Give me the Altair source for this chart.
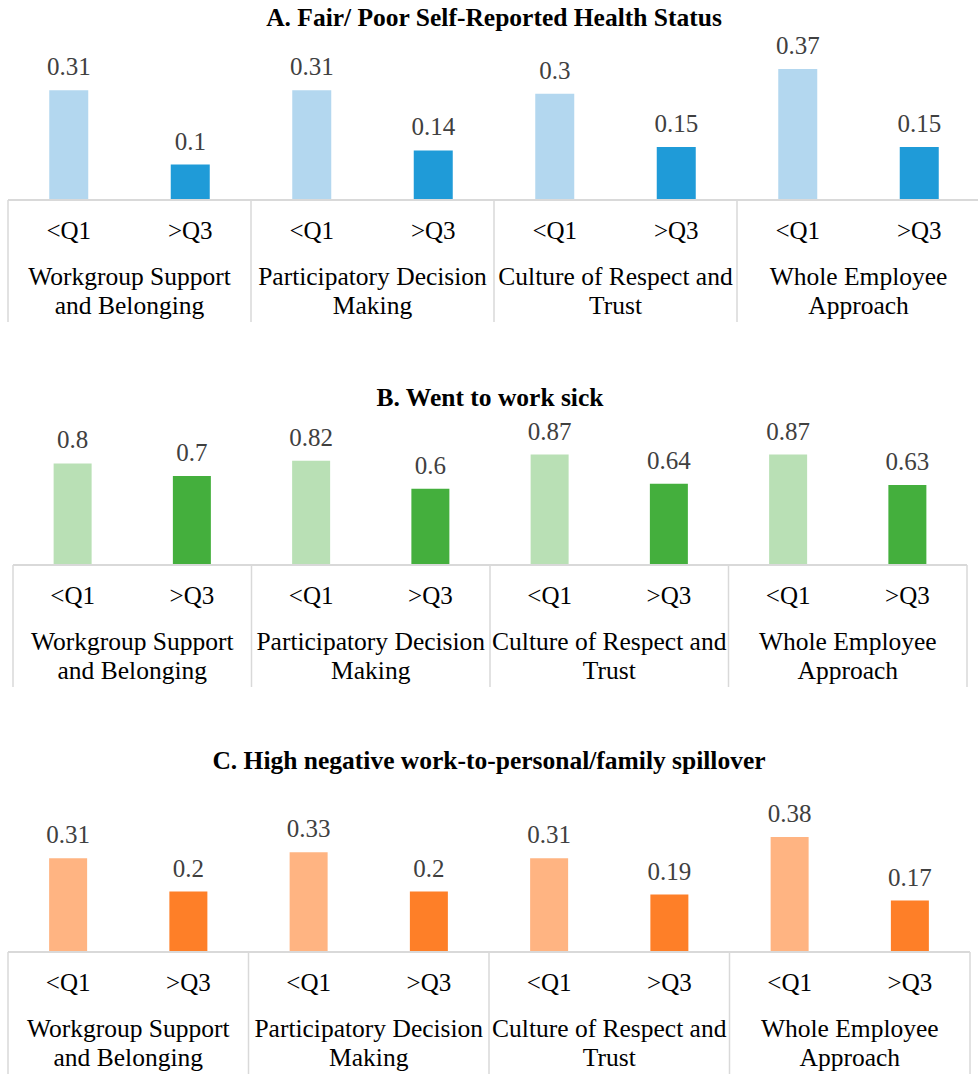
import altair as alt
import pandas as pd

# Categories
groups = [
    "Workgroup Support and Belonging",
    "Participatory Decision Making",
    "Culture of Respect and Trust",
    "Whole Employee Approach",
]
group_line1 = ["Workgroup Support", "Participatory Decision", "Culture of Respect and", "Whole Employee"]
group_line2 = ["and Belonging", "Making", "Trust", "Approach"]
quartiles = ["<Q1", ">Q3"]

# Series values, in order: group 1 <Q1, group 1 >Q3, group 2 <Q1, ...
health_values = [0.31, 0.10, 0.31, 0.14, 0.30, 0.15, 0.37, 0.15]
sick_values = [0.80, 0.70, 0.82, 0.60, 0.87, 0.64, 0.87, 0.63]
spillover_values = [0.31, 0.20, 0.33, 0.20, 0.31, 0.19, 0.38, 0.17]

titles = [
    "A. Fair/ Poor Self-Reported Health Status",
    "B. Went to work sick",
    "C. High negative work-to-personal/family spillover",
]

SERIF = "Liberation Serif"
GRID = "#D9D9D9"


def make_frame(values):
    rows = []
    for gi, g in enumerate(groups):
        for qi, q in enumerate(quartiles):
            rows.append({
                "group": g,
                "line1": group_line1[gi],
                "line2": group_line2[gi],
                "quartile": q,
                "slot": f"{g} {q}",
                "value": values[2 * gi + qi],
            })
    return pd.DataFrame(rows)


def panel(values, title, colors, x_range, base_px, top_px, y_max, bar_w, title_xy):
    df = make_frame(values)
    slots = list(df["slot"])
    x_scale = alt.Scale(domain=slots, range=x_range, paddingInner=0, paddingOuter=0)
    y_scale = alt.Scale(domain=[0, y_max], range=[base_px, top_px], nice=False, zero=True)
    xenc = alt.X("slot:N", scale=x_scale, axis=None, sort=slots)
    base = alt.Chart(df)

    bars = base.mark_bar(width=bar_w).encode(
        x=xenc,
        y=alt.Y("value:Q", scale=y_scale, axis=None),
        color=alt.Color("quartile:N", scale=alt.Scale(domain=quartiles, range=colors), legend=None),
    )
    value_labels = base.mark_text(
        font=SERIF, fontSize=25, color="#404040", baseline="alphabetic", dy=-15
    ).encode(
        x=xenc,
        y=alt.Y("value:Q", scale=y_scale, axis=None),
        text=alt.Text("value:Q", format=".2~f"),
    )
    baseline_rule = base.mark_rule(color=GRID, strokeWidth=2).encode(
        x=alt.value(x_range[0]), x2=alt.value(x_range[1]), y=alt.value(base_px)
    )
    separators = base.transform_filter(alt.datum.quartile == "<Q1").mark_rule(
        color=GRID, strokeWidth=1.5
    ).encode(
        x=alt.X("slot:N", scale=x_scale, axis=None, sort=slots, bandPosition=0),
        y=alt.value(base_px),
        y2=alt.value(base_px + 122),
    )
    end_sep = base.transform_filter(alt.datum.slot == slots[-1]).mark_rule(
        color=GRID, strokeWidth=1.5
    ).encode(
        x=alt.X("slot:N", scale=x_scale, axis=None, sort=slots, bandPosition=1),
        y=alt.value(base_px),
        y2=alt.value(base_px + 122),
    )
    q_labels = base.mark_text(font=SERIF, fontSize=25, color="black", baseline="alphabetic").encode(
        x=xenc, y=alt.value(base_px + 39), text="quartile:N"
    )
    group_first = alt.X("slot:N", scale=x_scale, axis=None, sort=slots, bandPosition=1)
    g1 = base.transform_filter(alt.datum.quartile == "<Q1").mark_text(
        font=SERIF, fontSize=25.5, color="black", baseline="alphabetic"
    ).encode(x=group_first, y=alt.value(base_px + 85), text="line1:N")
    g2 = base.transform_filter(alt.datum.quartile == "<Q1").mark_text(
        font=SERIF, fontSize=25.5, color="black", baseline="alphabetic"
    ).encode(x=group_first, y=alt.value(base_px + 114), text="line2:N")
    heading = alt.Chart(pd.DataFrame({"t": [title]})).mark_text(
        font=SERIF, fontSize=25.5, fontWeight="bold", color="black", baseline="alphabetic"
    ).encode(x=alt.value(title_xy[0]), y=alt.value(title_xy[1]), text="t:N")

    return alt.layer(bars, value_labels, baseline_rule, separators, end_sep, q_labels, g1, g2, heading)


panel_a = panel(health_values, titles[0], ["#B3D7EF", "#1F9BD8"], [8, 980], 200, 58.4, 0.4, 39, (494, 26))
panel_b = panel(sick_values, titles[1], ["#B9E0B5", "#44AF3D"], [13, 967], 565, 438, 1.0, 38, (490, 406))
panel_c = panel(spillover_values, titles[2], ["#FFB482", "#FE7F28"], [8, 970], 952, 831, 0.4, 38, (489, 769))

chart = alt.layer(panel_a, panel_b, panel_c).resolve_scale(
    x="independent", y="independent", color="independent"
).properties(
    width=978, height=1074, padding=0, autosize=alt.AutoSizeParams(type="none")
).configure_view(stroke=None)

chart.save("out.html", embed_options={"renderer": "svg", "actions": False})
